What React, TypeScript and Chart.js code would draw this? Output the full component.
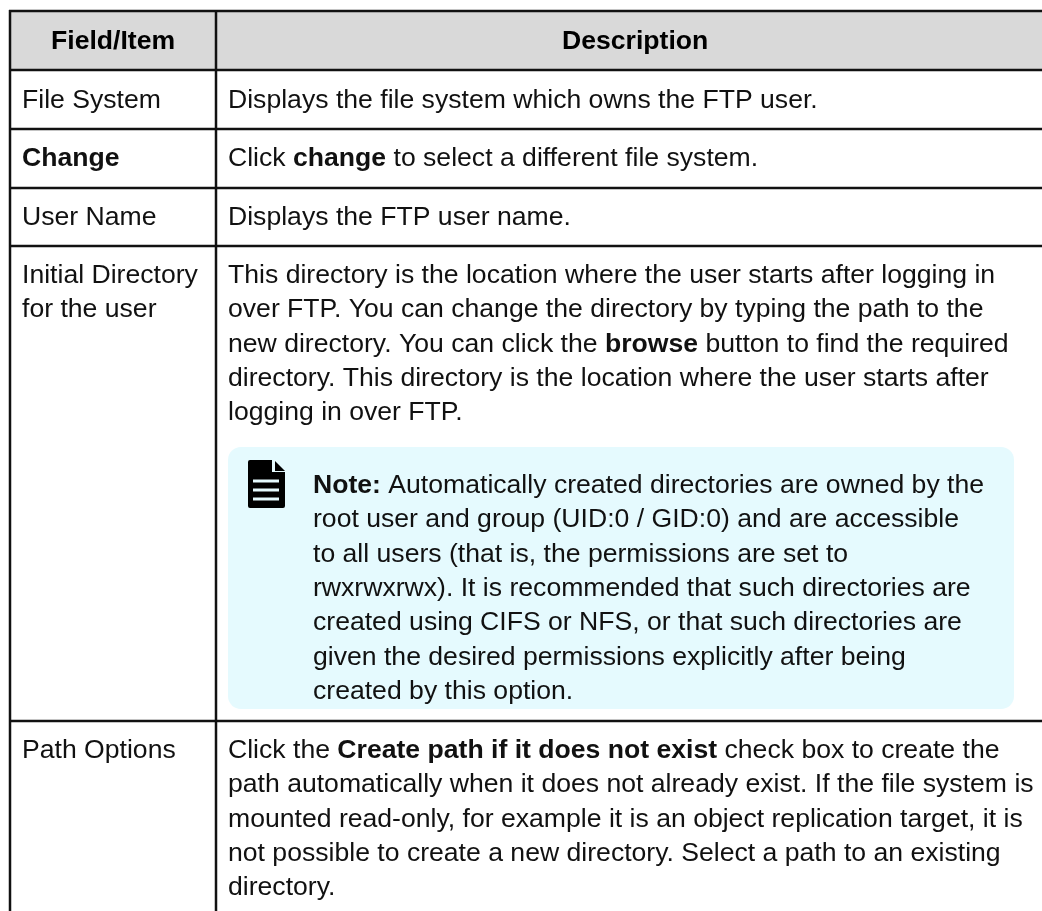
import React, { useEffect, useRef } from "react";
import { Chart, registerables } from "chart.js";

Chart.register(...registerables);

// Table content. "**" toggles bold inside a line.
const headers = ["Field/Item", "Description"];
const fieldFileSystem = ["File System"];
const fieldChange = ["**Change**"];
const fieldUserName = ["User Name"];
const fieldInitial = ["Initial Directory", "for the user"];
const fieldPath = ["Path Options"];
const descFileSystem = ["Displays the file system which owns the FTP user."];
const descChange = ["Click **change** to select a different file system."];
const descUserName = ["Displays the FTP user name."];
const descInitial = [
  "This directory is the location where the user starts after logging in",
  "over FTP. You can change the directory by typing the path to the",
  "new directory. You can click the **browse** button to find the required",
  "directory. This directory is the location where the user starts after",
  "logging in over FTP.",
];
const noteLines = [
  "**Note:** Automatically created directories are owned by the",
  "root user and group (UID:0 / GID:0) and are accessible",
  "to all users (that is, the permissions are set to",
  "rwxrwxrwx). It is recommended that such directories are",
  "created using CIFS or NFS, or that such directories are",
  "given the desired permissions explicitly after being",
  "created by this option.",
];
const descPath = [
  "Click the **Create path if it does not exist** check box to create the",
  "path automatically when it does not already exist. If the file system is",
  "mounted read-only, for example it is an object replication target, it is",
  "not possible to create a new directory. Select a path to an existing",
  "directory.",
];

const FAMILY = '"Liberation Sans", Arial, sans-serif';
const SIZE = 26.6;
const PITCH = 34.3;
const INK = "#111111";
const NOTE_BG = "#e5fafe";

function drawRuns(ctx: CanvasRenderingContext2D, line: string, x: number, y: number) {
  let cx = x;
  line.split("**").forEach((run, i) => {
    ctx.font = `${i % 2 ? "bold " : ""}${SIZE}px ${FAMILY}`;
    ctx.fillText(run, cx, y);
    cx += ctx.measureText(run).width;
  });
}

const tablePlugin = {
  id: "tablePlugin",
  beforeDraw(chart: any) {
    const ctx: CanvasRenderingContext2D = chart.ctx;
    const X = (v: number) => chart.scales.x.getPixelForValue(v);
    const Y = (v: number) => chart.scales.y.getPixelForValue(v);
    const rect = (x0: number, y0: number, x1: number, y1: number, c: string) => {
      ctx.fillStyle = c;
      ctx.fillRect(X(x0), Y(y0), X(x1) - X(x0), Y(y1) - Y(y0));
    };
    const block = (lines: string[], x: number, y: number) => {
      ctx.fillStyle = INK;
      lines.forEach((l, i) => drawRuns(ctx, l, X(x), Y(y + i * PITCH)));
    };

    ctx.save();
    rect(0, 0, 1042, 911, "#ffffff");
    rect(10, 11, 1042, 70, "#d9d9d9");

    // note box
    ctx.fillStyle = NOTE_BG;
    ctx.beginPath();
    ctx.roundRect(X(228), Y(447), X(1014) - X(228), Y(709) - Y(447), 13);
    ctx.fill();

    // rules
    [9.75, 68.75, 127.75, 186.75, 244.75, 719.75].forEach((y) => rect(9, y, 1042, y + 2.5, "#111111"));
    [8.75, 214.75].forEach((x) => rect(x, 10, x + 2.5, 911, "#111111"));

    // note icon
    ctx.fillStyle = "#000000";
    ctx.beginPath();
    ctx.moveTo(X(250), Y(460));
    ctx.lineTo(X(272), Y(460));
    ctx.lineTo(X(272), Y(472));
    ctx.lineTo(X(285), Y(472));
    ctx.lineTo(X(285), Y(506));
    ctx.quadraticCurveTo(X(285), Y(508), X(283), Y(508));
    ctx.lineTo(X(250), Y(508));
    ctx.quadraticCurveTo(X(248), Y(508), X(248), Y(506));
    ctx.lineTo(X(248), Y(462));
    ctx.quadraticCurveTo(X(248), Y(460), X(250), Y(460));
    ctx.closePath();
    ctx.fill();
    ctx.beginPath();
    ctx.moveTo(X(275), Y(461));
    ctx.lineTo(X(285), Y(471));
    ctx.lineTo(X(275), Y(471));
    ctx.closePath();
    ctx.fill();
    [479.5, 488.5, 497.5].forEach((y) => rect(253, y, 279, y + 3, NOTE_BG));

    // text
    ctx.textBaseline = "alphabetic";
    ctx.textAlign = "left";
    ctx.fillStyle = "#000000";
    ctx.font = `bold ${SIZE}px ${FAMILY}`;
    ctx.fillText(headers[0], X(51), Y(49));
    ctx.fillText(headers[1], X(562), Y(49));

    block(fieldFileSystem, 22, 108);
    block(fieldChange, 22, 166);
    block(fieldUserName, 22, 225);
    block(fieldInitial, 22, 283);
    block(fieldPath, 22, 758);

    block(descFileSystem, 228, 108);
    block(descChange, 228, 166);
    block(descUserName, 228, 225);
    block(descInitial, 228, 283);
    block(noteLines, 313, 493);
    block(descPath, 228, 758);
    ctx.restore();
  },
};

export default function App() {
  const ref = useRef<HTMLCanvasElement>(null);
  useEffect(() => {
    document.body.style.margin = "0";
    const chart = new Chart(ref.current!, {
      type: "scatter",
      data: { datasets: [{ data: [] }] },
      options: {
        animation: false,
        responsive: false,
        layout: { padding: 0 },
        plugins: { legend: { display: false }, tooltip: { enabled: false } },
        scales: {
          x: { type: "linear", display: false, min: 0, max: 1042 },
          y: { type: "linear", display: false, min: 0, max: 911, reverse: true },
        },
      },
      plugins: [tablePlugin],
    } as any);
    return () => chart.destroy();
  }, []);
  return <canvas ref={ref} width={1042} height={911} style={{ display: "block" }} />;
}
